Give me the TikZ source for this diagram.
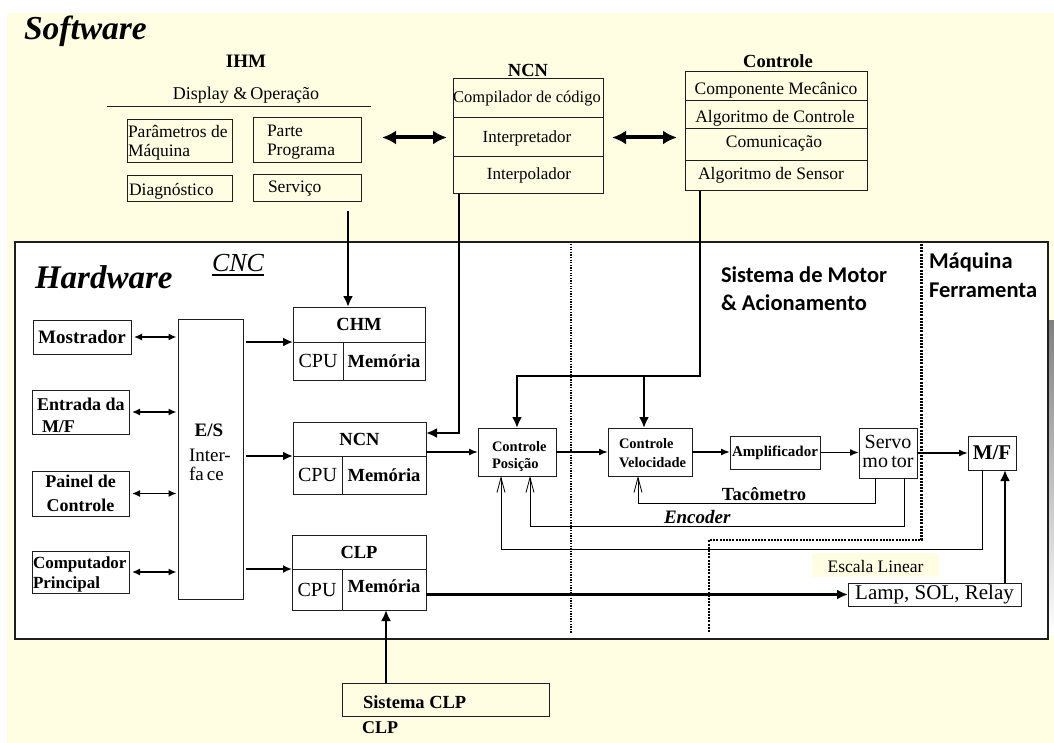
\documentclass[tikz,border=0pt]{standalone}
\usepackage{fontspec}
\setmainfont{Liberation Serif}
\newfontfamily\calib{Carlito}
\usetikzlibrary{arrows.meta}
\definecolor{cream}{RGB}{255,254,226}
\definecolor{edge}{RGB}{30,30,30}
\definecolor{shade}{RGB}{128,128,128}
\newcommand\fz[1]{\fontsize{#1}{#1}\selectfont}
% block by corners: \blk[options]{x1}{y1}{x2}{y2}{name}{text};
\newcommand\blk[6][]{\node[box,#1,minimum width={#4-#2},minimum height={#5-#3}] (#6) at ({(#2+#4)/2},{(#3+#5)/2})}
\tikzset{
  box/.style={draw=edge, line width=1pt, inner sep=0pt, outer sep=0pt},
  lbl/.style={inner sep=0pt, outer sep=0pt},
  bigarr/.style={line width=2.6pt, -{Latex[length=11pt,width=10pt]}},
  medarr/.style={line width=2.6pt, -{Latex[length=10pt,width=9pt]}},
  smlarr/.style={line width=1.8pt, -{Latex[length=9pt,width=8pt]}},
  sigarr/.style={line width=1.6pt, -{Latex[length=9pt,width=7pt]}},
  duo/.style={line width=1.5pt, {Latex[length=8pt,width=7pt]}-{Latex[length=8pt,width=7pt]}},
  fatduo/.style={line width=4pt, {Latex[length=14pt,width=14pt]}-{Latex[length=14pt,width=14pt]}},
  fb/.style={line width=0.8pt, -{Straight Barb[length=15pt,width=8pt]}},
  dotA/.style={line width=1.3pt, dash pattern=on 1.3pt off 1.3pt},
  dotB/.style={line width=2.6pt, dash pattern=on 2pt off 1.2pt},
}
\begin{document}
\begin{tikzpicture}[x=1pt,y=-1pt]
\useasboundingbox (0,0) rectangle (1054,743);
\fill[cream] (7,13) rectangle (1054,743);

% ---------------- Software ----------------
\node[lbl, anchor=base west, font=\bfseries\itshape\fz{33.5}] (sw) at (24,40) {Software};

% IHM
\node[lbl, anchor=base, font=\bfseries\fz{19}] (ihm) at (246,68) {IHM};
\node[lbl, anchor=base, font=\fz{18}] (disp) at (246,100) {Display~\&\,Operação};
\coordinate (rulel) at (107,107);
\coordinate (ruler) at (371,107);
\draw[line width=1pt, draw=edge] (rulel) -- (ruler);
\blk{127}{120}{232}{163}{pm}{};
\node[lbl, anchor=base west, font=\fz{17.5}] (pm1) at (128,138) {Parâmetros de};
\node[lbl, anchor=base west, font=\fz{17.5}] (pm2) at (128,157) {Máquina};
\blk{253}{118}{361}{163}{pp}{};
\node[lbl, anchor=base west, font=\fz{17.5}] (pp1) at (267,137) {Parte};
\node[lbl, anchor=base west, font=\fz{17.5}] (pp2) at (267,156) {Programa};
\blk{127}{176}{232}{202}{dg}{};
\node[lbl, anchor=base west, font=\fz{17.5}] (dg1) at (129,196) {Diagnóstico};
\blk{253}{175}{361}{202}{sv}{};
\node[lbl, anchor=base west, font=\fz{17.5}] (sv1) at (268,193) {Serviço};

% NCN (software)
\node[lbl, anchor=base, font=\bfseries\fz{18.5}] (ncnt) at (528,77) {NCN};
\blk{453}{79}{603}{118}{nc1}{};
\blk{453}{118}{603}{157}{nc2}{};
\blk{453}{157}{603}{194}{nc3}{};
\node[lbl, anchor=base, font=\fz{16.5}] (nc1t) at (527,103) {Compilador de código};
\node[lbl, anchor=base, font=\fz{17}] (nc2t) at (527,143) {Interpretador};
\node[lbl, anchor=base, font=\fz{17}] (nc3t) at (529,180) {Interpolador};

% Controle (software)
\node[lbl, anchor=base, font=\bfseries\fz{18.5}] (ctlt) at (778,68) {Controle};
\blk{685}{72}{867}{101}{ct1}{};
\blk{685}{101}{867}{129}{ct2}{};
\blk{685}{129}{867}{161}{ct3}{};
\blk{685}{161}{867}{191}{ct4}{};
\node[lbl, anchor=base, font=\fz{17.5}] (ct1t) at (776,95) {Componente Mecânico};
\node[lbl, anchor=base, font=\fz{17.5}] (ct2t) at (775,123) {Algoritmo de Controle};
\node[lbl, anchor=base, font=\fz{17.5}] (ct3t) at (774,148) {Comunicação};
\node[lbl, anchor=base, font=\fz{17.5}] (ct4t) at (771,180) {Algoritmo de Sensor};

% exchanges between software modules
\draw[fatduo] ([xshift=21pt]pp.east |- nc2.west) -- ([xshift=-6pt]nc2.west);
\draw[fatduo] ([xshift=9pt]nc2.east) -- ([xshift=-8pt]nc2.east -| ct3.west);

% ---------------- Hardware ----------------
\fill[shade] (1048,320) rectangle (1054,634);
\blk[fill=white, line width=1.3pt]{15}{242}{1048}{639}{hw}{};
\node[lbl, anchor=base west, font=\bfseries\itshape\fz{33}] (hwt) at (35,288) {Hardware};
\node[lbl, anchor=base west, font=\itshape\fz{26}] (cnc) at (212,272) {CNC};
\draw[line width=1.6pt] ([yshift=-3pt]cnc.base west) -- ([yshift=-3pt]cnc.base east);

% region separators
\draw[dotA] (571,244) -- (571,633);
\draw[dotB] (921.5,244) -- (921.5,540) -- (709,540) -- (709,633);
\node[lbl, anchor=base west, font=\calib\bfseries\fz{22.5}] (smt1) at (721,283) {Sistema de Motor};
\node[lbl, anchor=base west, font=\calib\bfseries\fz{22.5}] (smt2) at (721,310) {\& Acionamento};
\node[lbl, anchor=base west, font=\calib\bfseries\fz{22.5}] (mft1) at (929,269) {Máquina};
\node[lbl, anchor=base west, font=\calib\bfseries\fz{22.5}] (mft2) at (929,297) {Ferramenta};

% peripherals
\blk[font=\bfseries\fz{19}]{33}{320}{131}{354}{mos}{Mostrador};
\blk{32}{390}{129}{434}{ent}{};
\node[lbl, anchor=base west, font=\bfseries\fz{18}] (ent1) at (37,410) {Entrada da};
\node[lbl, anchor=base west, font=\bfseries\fz{18}] (ent2) at (42,432) {M/F};
\blk{32}{471}{129}{516}{pan}{};
\node[lbl, anchor=base, font=\bfseries\fz{18}] (pan1) at (80.5,487) {Painel de};
\node[lbl, anchor=base, font=\bfseries\fz{18}] (pan2) at (80.5,511) {Controle};
\blk{32}{551}{129}{593}{cpp}{};
\node[lbl, anchor=base west, font=\bfseries\fz{17}] (cpp1) at (33,568) {Computador};
\node[lbl, anchor=base west, font=\bfseries\fz{17}] (cpp2) at (33,588) {Principal};

% I/O interface
\blk{178}{319}{243}{599}{es}{};
\node[lbl, anchor=base, font=\bfseries\fz{19}] (es1) at (209,436) {E/S};
\node[lbl, anchor=base west, font=\fz{19}] (es2) at (189,461) {Inter-};
\node[lbl, anchor=base west, font=\fz{19}] (es3) at (189,480) {fa\,ce};

\foreach \p in {mos,ent,pan,cpp}
  \draw[duo, shorten >=1.5pt] ([xshift=3pt]\p.east) -- (\p.east -| es.west);

% CHM / NCN / CLP blocks
\blk[font=\bfseries\fz{18.5}]{293}{307}{425}{342}{chmT}{CHM};
\blk[font=\fz{20}]{293}{342}{343}{380}{chmC}{CPU};
\blk[font=\bfseries\fz{18.5}]{343}{342}{425}{380}{chmM}{Memória};
\blk[font=\bfseries\fz{18.5}]{293}{422}{426}{456}{ncnT}{NCN};
\blk[font=\fz{20}]{293}{456}{342}{494}{ncnC}{CPU};
\blk[font=\bfseries\fz{18.5}]{342}{456}{426}{494}{ncnM}{Memória};
\blk[font=\bfseries\fz{18.5}]{292}{535}{426}{569}{clpT}{CLP};
\blk[font=\fz{20}]{292}{569}{342}{610}{clpC}{CPU};
\blk[font=\bfseries\fz{18.5}, text depth=6pt]{342}{569}{426}{610}{clpM}{Memória};

\draw[medarr] ([xshift=3pt]es.east |- chmT.south) -- (chmT.south west);
\draw[medarr] ([xshift=3pt]es.east |- ncnT.south) -- (ncnT.south west);
\draw[smlarr] ([xshift=3pt]es.east |- clpT.south) -- (clpT.south west);

% servo chain
\blk{478}{428}{556}{476}{cpos}{};
\node[lbl, anchor=base west, font=\bfseries\fz{14.5}] (cpos1) at (492,451) {Controle};
\node[lbl, anchor=base west, font=\bfseries\fz{14.5}] (cpos2) at (492,468) {Posição};
\blk{608}{428}{692}{476}{cvel}{};
\node[lbl, anchor=base west, font=\bfseries\fz{14.5}] (cvel1) at (619,448) {Controle};
\node[lbl, anchor=base west, font=\bfseries\fz{14.5}] (cvel2) at (619,467) {Velocidade};
\blk[font=\bfseries\fz{15}]{730}{436}{820}{469}{amp}{Amplificador};
\blk{859}{428}{917}{478}{srv}{};
\node[lbl, anchor=base, font=\fz{20}] (srv1) at (888,448) {Servo};
\node[lbl, anchor=base, font=\fz{20}] (srv2) at (888,467) {mo\,tor};
\blk[font=\bfseries\fz{21}]{968}{436}{1016}{470}{mf}{M/F};
\blk[font=\fz{21}]{848}{583}{1021}{606}{lamp}{Lamp, SOL, Relay};

\draw[sigarr] (ncnT.east |- cpos.west) -- (cpos.west);
\draw[sigarr] (cpos.east) -- (cvel.west);
\draw[sigarr] (cvel.east) -- (cvel.east -| amp.west);
\draw[sigarr] (amp.east) -- (amp.east -| srv.west);
\draw[sigarr] (srv.east) -- (srv.east -| mf.west);

% software to hardware links
\draw[bigarr] (348,211) -- (348,211 |- chmT.north);
\draw[bigarr] ([xshift=6pt]nc3.south west) |- ([yshift=-11pt]ncnT.north east);
\draw[bigarr] ([xshift=15pt]ct4.south west) |- ([yshift=52pt]cpos.north) -- (cpos.north);
\draw[bigarr] ([xshift=-6pt,yshift=52pt]cvel.north) -- ([xshift=-6pt]cvel.north);

% feedback loops
\draw[fb] ([xshift=16pt]srv.south west) -- ++(0,25) -| ([xshift=30pt]cvel.south west);
\draw[fb] ([xshift=-13pt]srv.south east) -- ++(0,48) -| ([xshift=52pt]cpos.south west);
\draw[fb] ([xshift=14pt]mf.south west) -- ++(0,79) -| ([xshift=23pt]cpos.south west);
\node[lbl, anchor=base, font=\bfseries\fz{18.5}] (taco) at (764,500) {Tacômetro};
\node[lbl, anchor=base west, font=\bfseries\itshape\fz{19}] (enc) at (664,523) {Encoder};
\node[fill=cream, inner sep=0pt, minimum width=127, minimum height=24] (escbg) at (875.5,565) {};
\node[lbl, anchor=base, font=\fz{17.5}] (esc) at (875.5,572) {Escala Linear};

% PLC outputs and PLC system
\draw[bigarr] (clpM.east |- lamp.west) -- (lamp.west);
\draw[bigarr] ([xshift=-16pt]lamp.north east) -- ([xshift=-16pt]lamp.north east |- mf.south);
\blk[fill=cream]{342}{683}{549}{716}{sclp}{};
\node[lbl, anchor=base west, font=\bfseries\fz{18.5}] (sclp1) at (363,708) {Sistema CLP};
\node[lbl, anchor=base west, font=\bfseries\fz{18}] (clpl) at (362,733) {CLP};
\draw[bigarr] ([xshift=44pt]sclp.north west) -- ([xshift=44pt]sclp.north west |- clpM.south);
\end{tikzpicture}
\end{document}
